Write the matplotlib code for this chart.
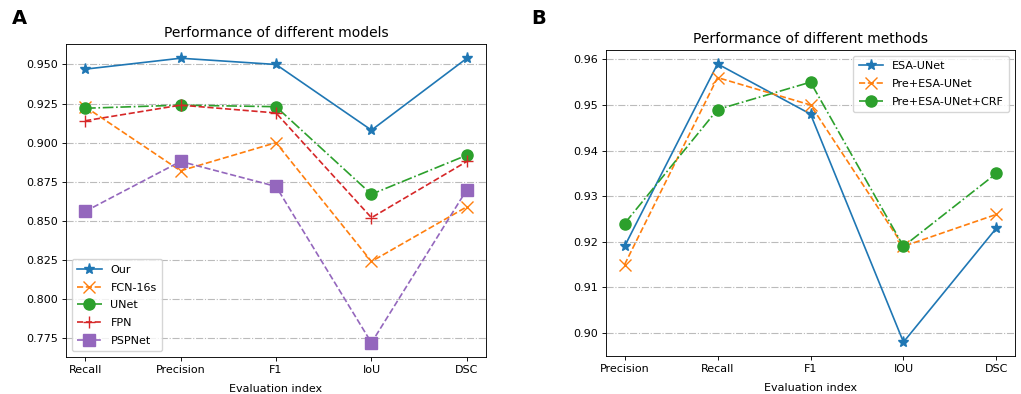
import matplotlib
matplotlib.use("Agg")
import matplotlib.pyplot as plt

# Panel A data
cats_a = ["Recall", "Precision", "F1", "IoU", "DSC"]
our = [0.947, 0.954, 0.950, 0.908, 0.954]
fcn16s = [0.923, 0.882, 0.900, 0.824, 0.859]
unet = [0.922, 0.924, 0.923, 0.867, 0.892]
fpn = [0.914, 0.924, 0.919, 0.852, 0.888]
pspnet = [0.856, 0.888, 0.872, 0.772, 0.870]

# Panel B data
cats_b = ["Precision", "Recall", "F1", "IOU", "DSC"]
esa_unet = [0.919, 0.959, 0.948, 0.898, 0.923]
pre_esa_unet = [0.915, 0.956, 0.950, 0.919, 0.926]
pre_esa_unet_crf = [0.924, 0.949, 0.955, 0.919, 0.935]

s = 0.8
plt.rcParams.update({
    'font.size': 10 * s,
    'lines.linewidth': 1.5 * s,
    'lines.markersize': 10 * s,
    'axes.linewidth': 0.8 * s,
    'xtick.major.size': 3.5 * s,
    'ytick.major.size': 3.5 * s,
    'xtick.major.width': 0.8 * s,
    'ytick.major.width': 0.8 * s,
    'xtick.major.pad': 3.5 * s,
    'ytick.major.pad': 3.5 * s,
    'axes.titlepad': 6 * s,
    'axes.labelpad': 6.5,
    'legend.fontsize': 10 * s,
    'legend.labelspacing': 0.7,
    'legend.handlelength': 2.2,
    'legend.borderpad': 0.5,
    'axes.titlesize': 10,
})

fig = plt.figure(figsize=(10.21, 3.94), dpi=100)
W, H = 1021, 394
axA = fig.add_axes([66 / W, (H - 357) / H, 420 / W, 313 / H])
axB = fig.add_axes([606 / W, (H - 356) / H, 409 / W, 306 / H])

axA.plot(cats_a, our, '-', marker='*', color='#1f77b4', label='Our')
axA.plot(cats_a, fcn16s, '--', marker='x', color='#ff7f0e', label='FCN-16s')
axA.plot(cats_a, unet, '-.', marker='o', color='#2ca02c', label='UNet')
axA.plot(cats_a, fpn, '--', marker='+', color='#d62728', label='FPN')
axA.plot(cats_a, pspnet, '--', marker='s', color='#9467bd', label='PSPNet')
axA.set_yticks([0.775, 0.800, 0.825, 0.850, 0.875, 0.900, 0.925, 0.950])
axA.set_yticklabels(["0.775", "0.800", "0.825", "0.850", "0.875", "0.900", "0.925", "0.950"])
axA.set_title("Performance of different models")
axA.set_xlabel("Evaluation index")
axA.grid(axis='y', linestyle='-.', color='#bbbbbb', linewidth=0.8)
axA.set_axisbelow(True)
axA.legend(loc='lower left')

axB.plot(cats_b, esa_unet, '-', marker='*', color='#1f77b4', label='ESA-UNet')
axB.plot(cats_b, pre_esa_unet, '--', marker='x', color='#ff7f0e', label='Pre+ESA-UNet')
axB.plot(cats_b, pre_esa_unet_crf, '-.', marker='o', color='#2ca02c', label='Pre+ESA-UNet+CRF')
axB.set_yticks([0.90, 0.91, 0.92, 0.93, 0.94, 0.95, 0.96])
axB.set_title("Performance of different methods")
axB.set_xlabel("Evaluation index")
axB.grid(axis='y', linestyle='-.', color='#bbbbbb', linewidth=0.8)
axB.set_axisbelow(True)
axB.legend(loc='upper right')

fig.text(19 / W, 1 - 18 / H, "A", fontsize=14, fontweight='bold', va='center', ha='center')
fig.text(539 / W, 1 - 18 / H, "B", fontsize=14, fontweight='bold', va='center', ha='center')

fig.savefig("out.png", dpi=100)
